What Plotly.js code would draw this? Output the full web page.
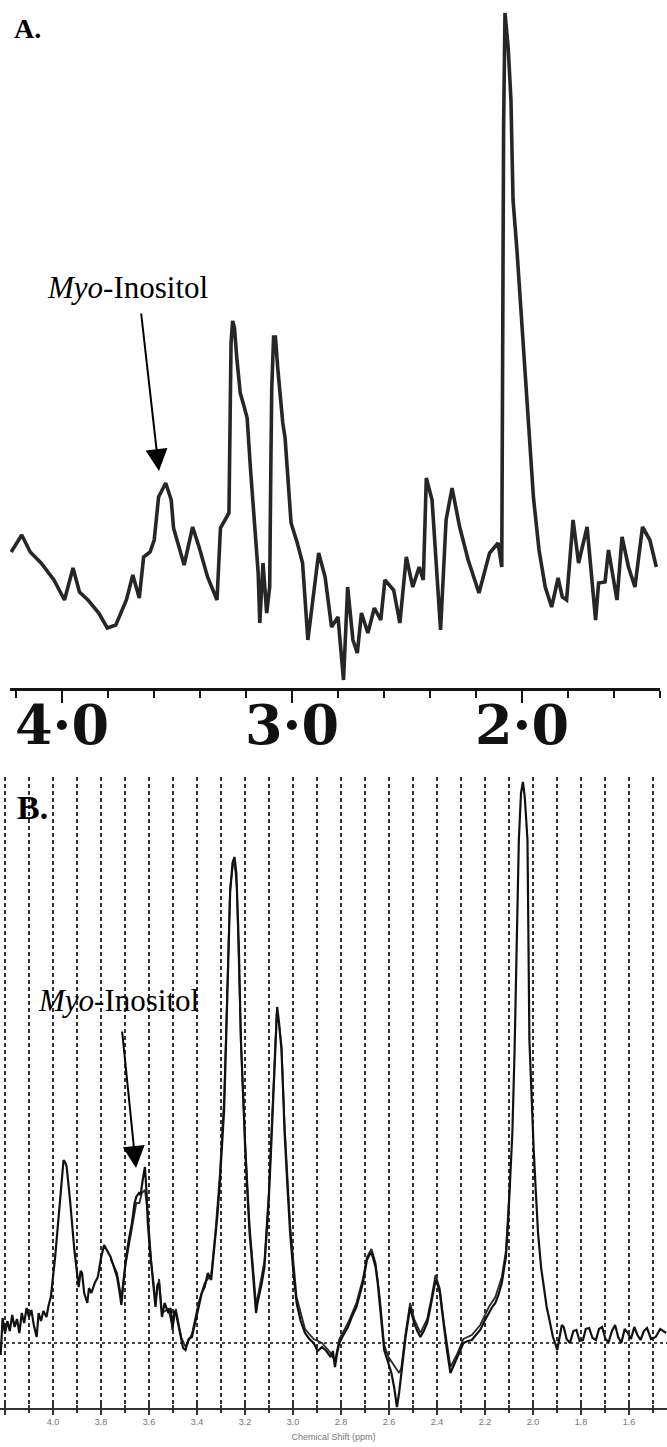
<!DOCTYPE html>
<html>
<head>
<meta charset="utf-8">
<script src="https://cdn.plot.ly/plotly-3.0.1.min.js"></script>
<style>html,body{margin:0;padding:0;background:#fff;}#chart{width:667px;height:1447px;}</style>
</head>
<body>
<div id="chart"></div>
<script>
// Panel A spectrum: [chemical shift (ppm), signal intensity (a.u.)]
const spectrumA = [
[4.221,136],[4.175,153],[4.138,136],[4.091,125],[4.035,108],[3.989,88],[3.952,120],[3.924,96],[3.887,88],[3.840,75],
[3.803,60],[3.766,63],[3.720,88],[3.692,113],[3.664,90],[3.645,131],[3.617,136],[3.599,148],[3.580,191],[3.549,205],
[3.525,188],[3.515,160],[3.469,123],[3.432,161],[3.404,141],[3.367,111],[3.326,88],[3.311,160],[3.274,175],[3.270,270],
[3.265,345],[3.258,367],[3.250,360],[3.240,330],[3.225,295],[3.210,283],[3.195,270],[3.181,221],[3.162,161],[3.147,115],
[3.140,65],[3.126,125],[3.110,75],[3.097,101],[3.092,220],[3.088,300],[3.080,351],[3.072,351],[3.062,320],[3.050,290],
[3.040,265],[3.030,250],[3.018,210],[3.004,165],[2.977,145],[2.954,125],[2.931,48],[2.902,101],[2.884,135],[2.856,111],
[2.828,61],[2.800,71],[2.776,8],[2.758,101],[2.735,48],[2.716,35],[2.698,75],[2.670,55],[2.642,80],[2.614,68],
[2.596,108],[2.558,98],[2.531,65],[2.503,131],[2.475,101],[2.447,121],[2.429,108],[2.416,210],[2.391,188],[2.354,58],
[2.330,168],[2.304,200],[2.271,161],[2.234,128],[2.187,95],[2.141,135],[2.104,145],[2.088,121],[2.086,250],[2.084,400],
[2.080,560],[2.074,675],[2.066,650],[2.060,640],[2.048,588],[2.039,488],[2.022,438],[1.992,338],[1.965,235],[1.950,190],
[1.926,138],[1.899,101],[1.871,81],[1.843,110],[1.825,91],[1.806,88],[1.778,168],[1.754,125],[1.717,161],[1.680,68],
[1.667,105],[1.639,106],[1.624,138],[1.587,88],[1.565,151],[1.537,121],[1.509,101],[1.476,161],[1.444,148],[1.416,121]
];

// Panel B, first acquisition: [ppm, intensity]
const spectrumB1 = [
[4.218,-12],[4.210,25],[4.200,10],[4.190,22],[4.180,12],[4.170,28],[4.160,16],[4.150,24],[4.140,10],[4.130,30],
[4.120,20],[4.110,35],[4.100,26],[4.090,33],[4.080,18],[4.068,6],[4.060,30],[4.050,22],[4.040,32],[4.027,26],
[4.018,38],[4.009,46],[3.991,86],[3.973,136],[3.962,170],[3.956,183],[3.948,180],[3.943,176],[3.929,143],[3.911,93],
[3.893,56],[3.885,72],[3.879,70],[3.870,50],[3.857,40],[3.850,55],[3.840,50],[3.826,60],[3.813,66],[3.800,85],
[3.787,98],[3.775,92],[3.760,86],[3.745,75],[3.733,66],[3.722,50],[3.715,38],[3.706,62],[3.698,80],[3.685,102],
[3.671,120],[3.660,140],[3.653,146],[3.642,150],[3.635,148],[3.625,165],[3.617,176],[3.610,150],[3.605,120],[3.597,95],
[3.590,76],[3.580,55],[3.573,36],[3.565,58],[3.558,60],[3.546,26],[3.535,40],[3.519,30],[3.510,35],[3.502,13],
[3.495,32],[3.488,30],[3.476,15],[3.466,3],[3.458,-5],[3.448,-7],[3.435,4],[3.421,6],[3.408,20],[3.394,36],
[3.380,50],[3.368,56],[3.355,70],[3.341,63],[3.332,85],[3.323,106],[3.314,130],[3.305,160],[3.296,195],[3.287,233],
[3.279,300],[3.270,380],[3.262,450],[3.252,480],[3.244,486],[3.236,470],[3.226,400],[3.217,303],[3.208,240],[3.199,193],
[3.190,150],[3.181,110],[3.172,85],[3.163,60],[3.154,30],[3.148,40],[3.142,46],[3.130,60],[3.119,76],[3.110,105],
[3.101,143],[3.092,190],[3.083,243],[3.075,300],[3.066,336],[3.058,320],[3.048,293],[3.041,250],[3.035,210],[3.024,160],
[3.012,110],[2.998,70],[2.985,40],[2.968,22],[2.950,10],[2.932,4],[2.914,0],[2.897,-8],[2.879,-4],[2.861,-8],
[2.843,-14],[2.834,-8],[2.825,-24],[2.816,-10],[2.807,0],[2.790,8],[2.771,16],[2.755,26],[2.736,36],[2.722,48],
[2.709,60],[2.700,72],[2.692,83],[2.682,88],[2.673,90],[2.665,84],[2.656,76],[2.647,60],[2.638,40],[2.629,15],
[2.620,-7],[2.611,-14],[2.602,-20],[2.590,-30],[2.578,-45],[2.567,-64],[2.558,-50],[2.549,-30],[2.540,-10],[2.531,6],
[2.522,20],[2.512,36],[2.504,28],[2.495,20],[2.482,12],[2.469,6],[2.455,12],[2.441,20],[2.432,30],[2.424,40],
[2.415,52],[2.406,63],[2.397,58],[2.388,50],[2.380,34],[2.371,16],[2.358,-8],[2.344,-30],[2.330,-22],[2.318,-17],
[2.305,-8],[2.290,0],[2.272,2],[2.255,3],[2.238,8],[2.220,13],[2.202,22],[2.184,30],[2.170,36],[2.157,40],
[2.144,48],[2.130,60],[2.121,72],[2.113,86],[2.104,120],[2.095,160],[2.086,210],[2.077,290],[2.068,400],[2.059,503],
[2.050,550],[2.042,561],[2.034,545],[2.023,503],[2.015,303],[2.009,260],[2.003,225],[1.997,193],[1.988,150],[1.979,110],
[1.966,75],[1.952,50],[1.943,36],[1.934,26],[1.925,14],[1.917,6],[1.908,0],[1.899,-7],[1.890,5],[1.880,18],
[1.872,16],[1.860,4],[1.846,0],[1.832,12],[1.819,13],[1.806,2],[1.792,3],[1.780,14],[1.766,15],[1.752,5],
[1.738,3],[1.725,14],[1.712,16],[1.698,4],[1.685,1],[1.671,12],[1.658,18],[1.645,6],[1.632,0],[1.618,14],
[1.605,10],[1.592,4],[1.578,16],[1.565,8],[1.552,3],[1.538,12],[1.525,15],[1.508,4],[1.489,6],[1.470,14],[1.445,10]
];

// Panel B, second acquisition (overlaid): [ppm, intensity]
const spectrumB2 = [
[3.760,84],[3.733,70],[3.715,45],[3.698,78],[3.671,115],[3.653,140],[3.640,140],[3.630,150],[3.617,153],[3.605,130],
[3.590,80],[3.573,42],[3.558,64],[3.546,30],[3.519,34],[3.502,16],[3.488,34],[3.466,6],[3.448,-4],[3.421,9],
[3.394,40],[3.368,60],[3.341,68],[3.323,112],[3.305,168],[3.287,245],[3.279,310],[3.270,390],[3.262,455],[3.250,478],
[3.243,480],[3.234,455],[3.226,390],[3.217,300],[3.199,200],[3.181,118],[3.163,66],[3.154,38],[3.142,52],[3.119,82],
[3.101,150],[3.083,250],[3.075,305],[3.068,330],[3.058,318],[3.048,298],[3.035,218],[3.012,118],[2.985,46],[2.950,14],
[2.914,4],[2.879,0],[2.843,-10],[2.825,-18],[2.807,4],[2.771,20],[2.736,40],[2.709,64],[2.692,86],[2.673,94],
[2.656,80],[2.638,45],[2.620,-2],[2.602,-14],[2.580,-22],[2.558,-30],[2.549,-25],[2.531,10],[2.512,40],[2.495,24],
[2.469,10],[2.441,24],[2.424,44],[2.406,68],[2.388,54],[2.371,20],[2.344,-24],[2.318,-12],[2.290,4],[2.255,8],
[2.220,18],[2.184,36],[2.157,46],[2.130,66],[2.113,92],[2.095,165]
];

const tickValsA = [4, 3, 2];
const tickTextA = ['4·0', '3·0', '2·0'];

const H = 1447, W = 667;
const col = (a, i) => a.map(p => p[i]);

const traces = [
  {x: col(spectrumA,0), y: col(spectrumA,1), xaxis:'x', yaxis:'y', type:'scatter', mode:'lines',
   line:{color:'#262626', width:3.6}, hoverinfo:'skip'},
  {x: col(spectrumB2,0), y: col(spectrumB2,1), xaxis:'x2', yaxis:'y2', type:'scatter', mode:'lines',
   line:{color:'#2a2a2a', width:1.8}, hoverinfo:'skip'},
  {x: col(spectrumB1,0), y: col(spectrumB1,1), xaxis:'x2', yaxis:'y2', type:'scatter', mode:'lines',
   line:{color:'#111', width:2.2}, hoverinfo:'skip'},
  {x: [], y: [], xaxis:'x3', yaxis:'y2', type:'scatter', mode:'lines', hoverinfo:'skip'}
];

const gridStyle = {showgrid:true, gridcolor:'#333', griddash:'4px,3px', gridwidth:1.2};

const layout = {
  width: W, height: H,
  margin: {l:0, r:0, t:0, b:0},
  paper_bgcolor:'#fff', plot_bgcolor:'rgba(0,0,0,0)',
  showlegend:false, hovermode:false,
  xaxis: {
    domain:[10/W, 660/W], range:[4.226, 1.4], anchor:'y',
    showline:true, linewidth:3, linecolor:'#141414',
    ticks:'outside', ticklen:12, tickwidth:2.5, tickcolor:'#141414',
    tickmode:'array', tickvals:tickValsA, ticktext:tickTextA,
    ticklabelstandoff:-24,
    tickfont:{family:'DejaVu Serif', size:54, color:'#111', weight:'bold'},
    minor:{tickmode:'linear', tick0:0, dtick:0.2, ticks:'outside', ticklen:7, tickwidth:2, tickcolor:'#141414', showgrid:false},
    showgrid:false, zeroline:false
  },
  yaxis: {domain:[1-688/H, 1-10/H], range:[0, 678], visible:false},
  xaxis2: Object.assign({
    domain:[0,1], range:[4.2208, 1.4417], anchor:'y2',
    showline:true, linewidth:1.5, linecolor:'#333',
    ticks:'outside', ticklen:5, tickwidth:1.5, tickcolor:'#333',
    tickmode:'linear', tick0:0, dtick:0.2, tickformat:'.1f',
    tickfont:{family:'Liberation Sans', size:9, color:'#777'},
    minor:Object.assign({tickmode:'linear', tick0:0, dtick:0.1, ticks:'outside', ticklen:3, tickwidth:1.2, tickcolor:'#333'}, gridStyle),
    zeroline:false,
    title:{text:'Chemical Shift (ppm)', font:{family:'Liberation Sans', size:9, color:'#777'}, standoff:7}
  }, gridStyle),
  xaxis3: {
    overlaying:'x2', anchor:'y2', range:[4.2208, 1.4417],
    ticks:'inside', ticklen:5, tickwidth:1.5, tickcolor:'#333',
    tickmode:'linear', tick0:0, dtick:0.2, showticklabels:false,
    minor:{tickmode:'linear', tick0:0, dtick:0.1, ticks:'inside', ticklen:3, tickwidth:1.2, tickcolor:'#333'},
    showgrid:false, showline:false, zeroline:false
  },
  yaxis2: {
    domain:[1-1408/H, 1-777/H], range:[-65, 566],
    showline:false, showticklabels:false, ticks:'',
    tickmode:'array', tickvals:[0],
    showgrid:true, gridcolor:'#444', griddash:'3px,3px', gridwidth:1.5, zeroline:false
  },
  annotations: [
    {text:'A.', xref:'paper', yref:'paper', x:12/W, y:1-28/H, xanchor:'left', yanchor:'middle', showarrow:false,
     font:{family:'Liberation Serif', size:28, weight:'bold', color:'#000'}},
    {text:'B.', xref:'paper', yref:'paper', x:15/W, y:1-807/H, xanchor:'left', yanchor:'middle', showarrow:false,
     font:{family:'Liberation Serif', size:34, weight:'bold', color:'#000'}},
    {text:'<i>Myo</i>-Inositol', xref:'paper', yref:'paper', x:45/W, y:1-287/H, xanchor:'left', yanchor:'middle', showarrow:false,
     font:{family:'Liberation Serif', size:31, color:'#000'}},
    {text:'<i>Myo</i>-Inositol', xref:'paper', yref:'paper', x:36/W, y:1-1000/H, xanchor:'left', yanchor:'middle', showarrow:false,
     font:{family:'Liberation Serif', size:31, color:'#000'}},
    {text:'', xref:'paper', yref:'paper', x:159/W, y:1-471/H, ax:-18, ay:-159, showarrow:true,
     arrowhead:2, arrowsize:2.2, arrowwidth:2, arrowcolor:'#000', standoff:0},
    {text:'', xref:'paper', yref:'paper', x:136/W, y:1-1168/H, ax:-14, ay:-138, showarrow:true,
     arrowhead:2, arrowsize:2.2, arrowwidth:2, arrowcolor:'#000', standoff:0}
  ]
};

Plotly.newPlot('chart', traces, layout, {staticPlot:true, displayModeBar:false});
</script>
</body>
</html>
